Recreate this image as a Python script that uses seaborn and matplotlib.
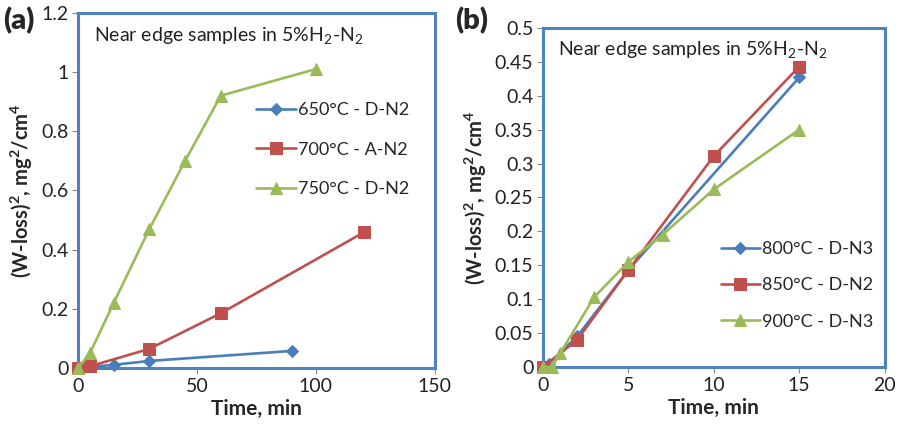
import matplotlib
matplotlib.use("Agg")
import matplotlib.pyplot as plt
import seaborn as sns
from matplotlib.ticker import FuncFormatter, MultipleLocator

sns.set_theme(style="white")
plt.rcParams['font.family'] = ['Lato', 'DejaVu Sans']
plt.rcParams['mathtext.fontset'] = 'custom'
plt.rcParams['mathtext.rm'] = 'Lato'
plt.rcParams['mathtext.bf'] = 'Lato:bold'

# ---- Panel (a) data ----
a_t650 = [0, 15, 30, 90]
a_w650 = [0, 0.011, 0.024, 0.058]
a_t700 = [0, 5, 30, 60, 120]
a_w700 = [0, 0.006, 0.065, 0.185, 0.458]
a_t750 = [0, 5, 15, 30, 45, 60, 100]
a_w750 = [0, 0.05, 0.22, 0.47, 0.70, 0.92, 1.01]
a_labels = ["650°C - D-N2", "700°C - A-N2", "750°C - D-N2"]

# ---- Panel (b) data ----
b_t800 = [0, 0.33, 2, 5, 15]
b_w800 = [0, 0.005, 0.045, 0.143, 0.427]
b_t850 = [0, 2, 5, 10, 15]
b_w850 = [0, 0.04, 0.143, 0.311, 0.443]
b_t900 = [0, 0.5, 1, 3, 5, 7, 10, 15]
b_w900 = [0, 0.0, 0.02, 0.103, 0.155, 0.195, 0.262, 0.35]
b_labels = ["800°C - D-N3", "850°C - D-N2", "900°C - D-N3"]

BLUE, RED, GREEN = "#4A7EBB", "#C0504D", "#9BBB59"
FRAME = "#4F81BD"

fig = plt.figure(figsize=(8.99, 4.26), dpi=100)
ax1 = fig.add_axes([0.0868, 0.136, 0.397, 0.834])
ax2 = fig.add_axes([0.604, 0.1385, 0.380, 0.796])

def draw(ax, series, labels):
    styles = [(BLUE, "D", 6.5), (RED, "s", 8.5), (GREEN, "^", 9)]
    for (t, w), lab, (c, m, ms) in zip(series, labels, styles):
        sns.lineplot(x=t, y=w, ax=ax, color=c, marker=m, markersize=ms,
                     markeredgecolor=c, linewidth=1.9, label=lab, sort=False,
                     clip_on=False, zorder=3)

draw(ax1, [(a_t650, a_w650), (a_t700, a_w700), (a_t750, a_w750)], a_labels)
draw(ax2, [(b_t800, b_w800), (b_t850, b_w850), (b_t900, b_w900)], b_labels)

fmt = FuncFormatter(lambda v, p: f"{v:g}")
ax1.set_xlim(0, 150); ax1.set_ylim(0, 1.2)
ax1.xaxis.set_major_locator(MultipleLocator(50))
ax1.yaxis.set_major_locator(MultipleLocator(0.2))
ax2.set_xlim(0, 20); ax2.set_ylim(0, 0.5)
ax2.xaxis.set_major_locator(MultipleLocator(5))
ax2.yaxis.set_major_locator(MultipleLocator(0.05))

for ax in (ax1, ax2):
    ax.xaxis.set_major_formatter(fmt)
    ax.yaxis.set_major_formatter(fmt)
    for s in ax.spines.values():
        s.set_color(FRAME)
        s.set_linewidth(2.2)
        s.set_zorder(2)
    ax.tick_params(axis='both', labelsize=14, colors='#222222',
                   direction='out', length=4, width=0.8, color='#888888',
                   bottom=True, left=True, pad=3)
    ax.set_xlabel("Time, min", fontsize=15, fontweight='bold', labelpad=3)
    ax.set_ylabel("(W-loss)$^\\mathbf{2}$, mg$^\\mathbf{2}$/cm$^\\mathbf{4}$",
                  fontsize=14.5, fontweight='bold', labelpad=4)
    ax.text(0.045, 0.935, "Near edge samples in 5%H$_2$-N$_2$", transform=ax.transAxes,
            fontsize=14, va='center', ha='left', color='#222222')

ax1.legend(loc='upper left', bbox_to_anchor=(0.5, 0.748), frameon=False,
           fontsize=13, labelspacing=1.3, handlelength=2.2, handletextpad=0.1,
           borderpad=0, borderaxespad=0)
ax2.legend(loc='upper left', bbox_to_anchor=(0.52, 0.372), frameon=False,
           fontsize=13, labelspacing=1.13, handlelength=2.2, handletextpad=0.1,
           borderpad=0, borderaxespad=0)

fig.text(3/899, 1 - 21/426, "(a)", fontsize=21, fontweight='heavy', va='center', ha='left')
fig.text(455/899, 1 - 21/426, "(b)", fontsize=21, fontweight='heavy', va='center', ha='left')

fig.savefig("out.png", dpi=100)
